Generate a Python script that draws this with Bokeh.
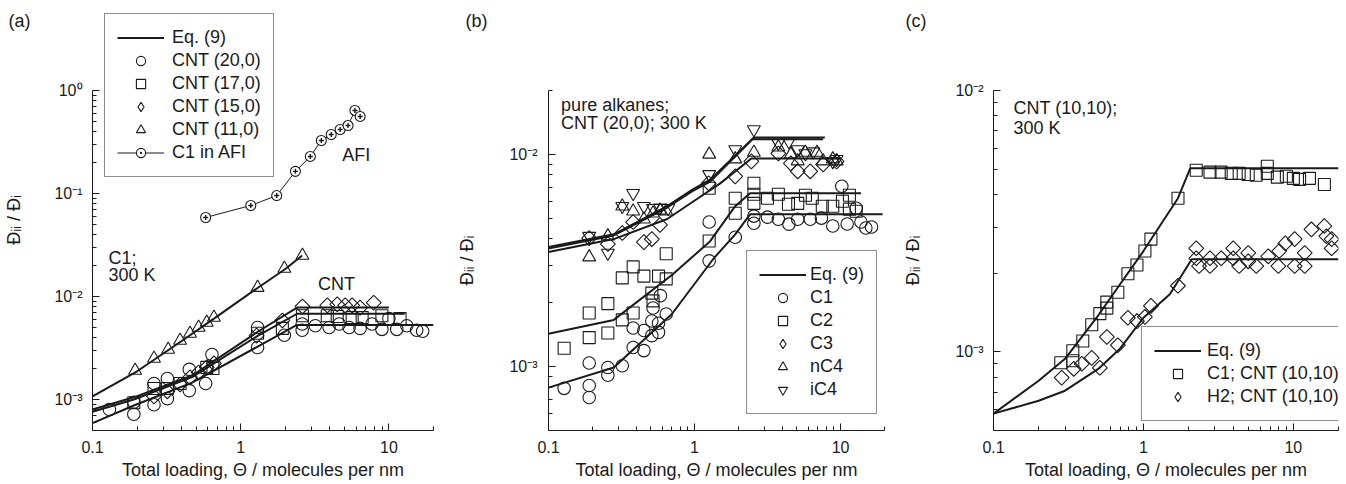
import numpy as np
from bokeh.plotting import figure
from bokeh.layouts import row
from bokeh.models import (Range1d, FixedTicker, CustomJSTickFormatter, Legend,
                          LegendItem, Label, LinearAxis)
from bokeh.embed import file_html
from bokeh.resources import INLINE

# ---------------- data: panel (a) ----------------
a_c20_x = [0.13, 0.19, 0.19, 0.26, 0.26, 0.32, 0.32, 0.45, 0.45, 0.58, 0.64, 1.3, 1.3, 1.97,
           2.6, 2.6, 3.19, 3.95, 4.62, 5.39, 6.39, 7.69, 8.97, 10.0, 11.3, 13.2, 15.4, 16.9]
a_c20_y = [8.0e-4, 9.4e-4, 7.2e-4, 1.43e-3, 8.9e-4, 1.6e-3, 1.02e-3, 1.96e-3, 1.22e-3, 1.43e-3,
           2.73e-3, 5.0e-3, 3.2e-3, 4.2e-3, 5.4e-3, 4.7e-3, 5.2e-3, 5.0e-3, 5.4e-3, 5.0e-3,
           4.9e-3, 5.4e-3, 4.8e-3, 6.1e-3, 4.8e-3, 5.2e-3, 4.7e-3, 4.6e-3]
a_s17_x = [0.19, 0.26, 0.32, 0.39, 0.59, 0.65, 1.3, 1.91, 2.61, 3.84, 4.48, 5.65, 6.6, 8.97, 11.9]
a_s17_y = [9.3e-4, 1.28e-3, 1.28e-3, 1.43e-3, 2.05e-3, 2.0e-3, 4.4e-3, 4.9e-3, 6.5e-3, 6.5e-3,
           6.4e-3, 6.25e-3, 6.25e-3, 6.5e-3, 6.1e-3]
a_d15_x = [0.26, 0.32, 0.39, 0.455, 0.52, 0.59, 0.66, 1.28, 1.91, 2.61, 3.84, 4.48, 5.07, 5.65, 6.39, 7.9]
a_d15_y = [1.07e-3, 1.2e-3, 1.4e-3, 1.64e-3, 1.83e-3, 2.05e-3, 2.24e-3, 4.17e-3, 5.85e-3, 8.0e-3,
           8.2e-3, 8.4e-3, 8.2e-3, 8.2e-3, 7.8e-3, 8.7e-3]
a_t11_x = [0.194, 0.26, 0.324, 0.39, 0.455, 0.52, 0.59, 0.66, 1.30, 1.97, 2.61]
a_t11_y = [1.91e-3, 2.5e-3, 3.06e-3, 3.74e-3, 4.37e-3, 5.0e-3, 5.6e-3, 6.25e-3, 0.0122, 0.0187, 0.025]
a_afi_x = [0.58, 1.17, 1.75, 2.34, 2.95, 3.5, 4.08, 4.69, 5.3, 5.9, 6.4]
a_afi_y = [0.0585, 0.0765, 0.0955, 0.164, 0.229, 0.327, 0.374, 0.418, 0.457, 0.64, 0.56]

a_eq_t11_x = [0.1, 0.2, 0.4, 0.66, 1.3, 2.0, 2.6]
a_eq_t11_y = [1.07e-3, 1.88e-3, 3.7e-3, 6.1e-3, 0.0121, 0.0185, 0.025]
a_eq_d15_x = [0.1, 0.19, 0.47, 1.32, 2.4, 10.0]
a_eq_d15_y = [8.0e-4, 1.05e-3, 1.71e-3, 4.6e-3, 7.8e-3, 7.8e-3]
a_eq_s17_x = [0.1, 0.19, 0.47, 1.32, 2.4, 12.8]
a_eq_s17_y = [7.6e-4, 1.0e-3, 1.65e-3, 4.2e-3, 6.8e-3, 6.8e-3]
a_eq_c20_x = [0.1, 0.19, 0.47, 1.32, 2.4, 20.0]
a_eq_c20_y = [5.9e-4, 8.75e-4, 1.46e-3, 3.3e-3, 5.3e-3, 5.3e-3]

# ---------------- data: panel (b) ----------------
b_c1_x = [0.128, 0.19, 0.19, 0.19, 0.255, 0.255, 0.32, 0.38, 0.38, 0.45, 0.45, 0.51, 0.51, 0.52,
          0.567, 0.567, 0.584, 0.64, 1.26, 1.26, 1.9, 2.55, 2.55, 3.16, 3.75, 4.43, 5.09, 6.2,
          7.4, 8.85, 10.2, 11.1, 12.8, 13.8, 14.9, 16.3]
b_c1_y = [7.9e-4, 8.15e-4, 7.15e-4, 1.04e-3, 9.9e-4, 9.1e-4, 1.01e-3, 1.23e-3, 1.52e-3, 1.19e-3,
          1.48e-3, 1.4e-3, 1.64e-3, 1.89e-3, 1.45e-3, 1.6e-3, 2.16e-3, 1.77e-3, 3.15e-3, 4.8e-3,
          4.07e-3, 5.12e-3, 4.74e-3, 5.06e-3, 4.95e-3, 4.69e-3, 4.95e-3, 4.95e-3, 5.01e-3, 4.6e-3,
          7.08e-3, 4.7e-3, 5.57e-3, 4.8e-3, 4.5e-3, 4.55e-3]
b_c2_x = [0.128, 0.19, 0.19, 0.255, 0.255, 0.32, 0.32, 0.38, 0.38, 0.45, 0.51, 0.52, 0.567, 0.64,
          0.64, 1.26, 1.26, 1.9, 1.9, 2.55, 2.55, 2.55, 3.16, 3.75, 4.4, 5.09, 5.75, 6.4, 7.5,
          8.85, 10.3, 11.5, 11.5, 12.8]
b_c2_y = [1.22e-3, 1.37e-3, 1.79e-3, 1.44e-3, 1.98e-3, 1.66e-3, 2.62e-3, 1.79e-3, 2.95e-3, 2.67e-3,
          2.22e-3, 2.04e-3, 2.67e-3, 3.4e-3, 2.59e-3, 3.91e-3, 6.92e-3, 6.21e-3, 5.28e-3, 7.31e-3,
          6.49e-3, 5.88e-3, 6.21e-3, 6.49e-3, 5.82e-3, 5.88e-3, 6.42e-3, 6.21e-3, 5.7e-3, 5.7e-3,
          6.01e-3, 6.42e-3, 5.52e-3, 5.4e-3]
b_c3_x = [0.19, 0.255, 0.32, 0.38, 0.45, 0.51, 0.58, 1.25, 1.9, 2.45, 3.75, 4.57, 5.09, 6.2, 7.6, 9.4]
b_c3_y = [4.03e-3, 3.78e-3, 4.26e-3, 4.8e-3, 3.86e-3, 3.99e-3, 4.65e-3, 7.31e-3, 7.88e-3, 9.27e-3,
          0.0101, 9.07e-3, 8.32e-3, 8.32e-3, 8.97e-3, 9.27e-3]
b_nc4_x = [0.19, 0.255, 0.32, 0.38, 0.45, 0.52, 0.58, 0.64, 1.26, 1.9, 2.55, 3.75, 4.57, 5.09,
           5.75, 6.9, 7.6, 8.85, 9.4]
b_nc4_y = [3.28e-3, 4.12e-3, 5.7e-3, 5.4e-3, 4.95e-3, 5.28e-3, 5.45e-3, 5.4e-3, 0.0100, 9.5e-3,
           0.0102, 0.0108, 0.0100, 9.3e-3, 0.0102, 0.0102, 9.3e-3, 9.5e-3, 9.3e-3]
b_ic4_x = [0.19, 0.255, 0.32, 0.38, 0.45, 0.52, 0.58, 0.66, 1.26, 1.9, 2.55, 3.75, 4.43, 5.09,
           5.75, 6.5, 8.85, 9.4]
b_ic4_y = [4.12e-3, 3.43e-3, 5.7e-3, 6.56e-3, 5.7e-3, 5.57e-3, 5.6e-3, 5.57e-3, 8.05e-3, 0.01055,
           0.0131, 0.0113, 0.0115, 0.01055, 0.0101, 0.0103, 9.27e-3, 9.48e-3]

b_eq_ic4_x = [0.1, 0.28, 0.65, 0.98, 1.28, 2.55, 7.8]
b_eq_ic4_y = [3.66e-3, 4.2e-3, 5.7e-3, 6.86e-3, 7.6e-3, 0.012, 0.012]
b_eq_nc4_x = [0.1, 0.28, 0.65, 0.98, 1.28, 2.5, 7.6]
b_eq_nc4_y = [3.6e-3, 4.15e-3, 5.62e-3, 6.75e-3, 7.45e-3, 0.0118, 0.0118]
b_eq_c3_x = [0.1, 0.28, 0.65, 0.98, 1.5, 2.45, 10.0]
b_eq_c3_y = [3.47e-3, 3.99e-3, 4.96e-3, 6.0e-3, 7.3e-3, 9.57e-3, 9.57e-3]
b_eq_c2_x = [0.1, 0.28, 0.7, 1.28, 1.9, 2.4, 13.8]
b_eq_c2_y = [1.43e-3, 1.66e-3, 2.7e-3, 3.9e-3, 5.7e-3, 6.56e-3, 6.56e-3]
b_eq_c1_x = [0.1, 0.28, 0.7, 1.36, 1.9, 2.4, 19.4]
b_eq_c1_y = [7.96e-4, 9.9e-4, 1.77e-3, 3.25e-3, 4.2e-3, 5.22e-3, 5.22e-3]

# ---------------- data: panel (c) ----------------
c_c1_x = [0.281, 0.338, 0.338, 0.394, 0.452, 0.512, 0.57, 0.57, 0.675, 0.788, 0.905, 1.023, 1.122,
          1.70, 2.25, 2.78, 3.30, 3.85, 4.35, 5.0, 5.66, 6.70, 6.70, 7.82, 8.98, 10.0, 11.0, 12.8, 16.1]
c_c1_y = [9.08e-4, 1.01e-3, 9.25e-4, 1.10e-3, 1.27e-3, 1.40e-3, 1.47e-3, 1.55e-3, 1.69e-3, 1.99e-3,
          2.15e-3, 2.43e-3, 2.7e-3, 3.87e-3, 4.95e-3, 4.87e-3, 4.87e-3, 4.82e-3, 4.82e-3, 4.77e-3,
          4.74e-3, 5.13e-3, 4.82e-3, 4.66e-3, 4.7e-3, 4.61e-3, 4.57e-3, 4.61e-3, 4.37e-3]
c_h2_x = [0.285, 0.343, 0.388, 0.452, 0.512, 0.57, 0.675, 0.788, 0.905, 1.023, 1.122, 1.70, 2.25,
          2.25, 2.35, 2.78, 2.78, 3.30, 3.97, 3.97, 4.35, 5.0, 5.0, 5.66, 6.8, 7.94, 8.05, 8.84,
          10.2, 10.2, 11.9, 11.9, 13.2, 16.1, 16.6, 18.0, 18.0]
c_h2_y = [7.96e-4, 8.61e-4, 9.0e-4, 9.48e-4, 8.69e-4, 1.14e-3, 1.06e-3, 1.35e-3, 1.31e-3, 1.36e-3,
          1.50e-3, 1.79e-3, 2.49e-3, 2.28e-3, 2.13e-3, 2.28e-3, 2.13e-3, 2.28e-3, 2.49e-3, 2.28e-3,
          2.13e-3, 2.39e-3, 2.22e-3, 2.13e-3, 2.32e-3, 2.13e-3, 2.43e-3, 2.6e-3, 2.7e-3, 2.13e-3,
          2.39e-3, 2.13e-3, 2.94e-3, 3.03e-3, 2.77e-3, 2.7e-3, 2.49e-3]
c_eq_c1_x = [0.1, 0.2, 0.3, 0.5, 1.0, 1.7, 2.05, 20.0]
c_eq_c1_y = [5.8e-4, 7.75e-4, 9.4e-4, 1.38e-3, 2.43e-3, 3.87e-3, 5.04e-3, 5.04e-3]
c_eq_h2_x = [0.1, 0.2, 0.3, 0.5, 0.7, 1.0, 1.5, 2.1, 20.0]
c_eq_h2_y = [5.8e-4, 6.5e-4, 7.1e-4, 8.6e-4, 1.03e-3, 1.35e-3, 1.66e-3, 2.26e-3, 2.26e-3]

# ---------------- ticks ----------------
x_major = [0.1, 1, 10]
x_minor = [0.2, 0.3, 0.4, 0.5, 0.6, 0.7, 0.8, 0.9, 2, 3, 4, 5, 6, 7, 8, 9, 20]


def decade_minor(lo_exp, hi_exp):
    out = []
    for e in range(lo_exp, hi_exp):
        out += [m * 10.0 ** e for m in range(2, 10)]
    return out


FONT = "Liberation Sans"
INK = "#1a1a1a"
FS_TICK = "16px"
FS = "18px"
H = 484
FRAME_BOTTOM = 54
FRAME_TOP_PX = 90          # pixel row of the top of each panel's y axis
FRAME_H = H - FRAME_BOTTOM  # frames start at the canvas top
EM = "\u2003"

Y_FMT = CustomJSTickFormatter(code="""
const s = {'-':'\u207b','0':'\u2070','1':'\u00b9','2':'\u00b2','3':'\u00b3','4':'\u2074'};
const e = Math.round(Math.log10(tick)).toString();
return '10' + e.split('').map(c => s[c]).join('');
""")
X_FMT = CustomJSTickFormatter(code="return tick < 1 ? tick.toFixed(1) : tick.toFixed(0);")
YLABEL = "\u0110\u1d62\u1d62 / \u0110\u1d62"


def style_axis(ax):
    ax.major_tick_in = 7
    ax.major_tick_out = 0
    ax.minor_tick_in = 4
    ax.minor_tick_out = 0
    ax.axis_line_color = INK
    ax.major_tick_line_color = INK
    ax.minor_tick_line_color = INK
    ax.major_label_text_font = FONT
    ax.major_label_text_font_size = FS_TICK
    ax.major_label_text_color = INK
    ax.axis_label_text_font = FONT
    ax.axis_label_text_font_size = FS
    ax.axis_label_text_font_style = "normal"
    ax.axis_label_text_color = INK


def make_fig(width, left, right, ylo, yhi, ymaj, ymin, ytick_standoff):
    axis_h = FRAME_H - FRAME_TOP_PX
    ytop = ylo * (yhi / ylo) ** (FRAME_H / axis_h)
    p = figure(width=width, height=H, x_axis_type="log", y_axis_type="log",
               x_range=Range1d(0.1, 20), y_range=Range1d(ylo, ytop),
               output_backend="svg", toolbar_location=None,
               min_border_left=left, min_border_right=right,
               min_border_top=0, min_border_bottom=FRAME_BOTTOM)
    p.frame_align = False
    p.grid.visible = False
    p.outline_line_color = None
    p.background_fill_color = "white"
    p.border_fill_color = "white"
    p.xaxis.ticker = FixedTicker(ticks=x_major, minor_ticks=x_minor)
    p.yaxis.ticker = FixedTicker(ticks=ymaj, minor_ticks=ymin)
    p.xaxis.formatter = X_FMT
    p.yaxis.formatter = Y_FMT
    p.yaxis.bounds = (ylo, yhi)
    style_axis(p.xaxis[0])
    style_axis(p.yaxis[0])
    p.xaxis.axis_label = "Total loading, \u0398 / molecules per nm"
    p.xaxis.major_label_standoff = 10
    p.xaxis.axis_label_standoff = 4
    p.yaxis.major_label_standoff = ytick_standoff
    return p


def letter_axis(p, letter, letter_standoff, label_standoff, label_pad):
    # outer left axis: carries the panel letter (as its only tick label) and the axis title
    p.extra_y_ranges = {"lab": Range1d(0, 1)}
    ax = LinearAxis(y_range_name="lab",
                    ticker=FixedTicker(ticks=[(FRAME_H - 25) / FRAME_H]),
                    formatter=CustomJSTickFormatter(code="return '%s';" % letter))
    style_axis(ax)
    ax.major_label_text_font_size = FS
    ax.axis_line_color = None
    ax.major_tick_line_color = None
    ax.minor_tick_line_color = None
    ax.major_tick_in = 0
    ax.minor_tick_in = 0
    ax.major_label_standoff = letter_standoff
    ax.axis_label = YLABEL + label_pad
    ax.axis_label_standoff = label_standoff
    p.add_layout(ax, "left")


def pts(p, x, y, marker, size, angle=0.0):
    return p.scatter(x, y, marker=marker, size=size, angle=angle, fill_color=None,
                     line_color=INK, line_width=1.1)


def diamonds(p, x, y):
    return pts(p, x, y, "square", 10.5, np.pi / 4)


def key(p, marker):
    # legend key only: a single marker placed outside the visible ranges
    return p.scatter([1e-6], [1e-9], marker=marker, size=10, fill_color=INK if marker == "dot" else None,
                     line_color=INK, line_width=1.1)


def eq(p, x, y, w=2):
    return p.line(x, y, line_color=INK, line_width=w)


def txt(p, x, y, s):
    p.add_layout(Label(x=x, y=y, text=s, text_font=FONT, text_font_size=FS,
                       text_color=INK, text_baseline="middle", text_align="left"))


def legend(p, items, loc, standoff):
    lg = Legend(items=items, location=loc, label_text_font=FONT, label_text_font_size=FS,
                label_text_color=INK, glyph_width=47, glyph_height=23, label_height=23,
                spacing=0, padding=12, margin=0, label_standoff=standoff,
                border_line_color=INK, border_line_width=1, background_fill_alpha=1.0)
    p.add_layout(lg)


# ---------------- panel (a) ----------------
pa = make_fig(453, 89, 20, 5e-4, 1.0, [1e-3, 1e-2, 1e-1, 1.0], decade_minor(-4, 0)[3:], 10)
letter_axis(pa, "(a)", 21, -18, "\u2002")

e1 = eq(pa, a_eq_t11_x, a_eq_t11_y)
eq(pa, a_eq_d15_x, a_eq_d15_y)
eq(pa, a_eq_s17_x, a_eq_s17_y)
eq(pa, a_eq_c20_x, a_eq_c20_y)
r_c = pts(pa, a_c20_x, a_c20_y, "circle", 12.5)
r_s = pts(pa, a_s17_x, a_s17_y, "square", 12)
diamonds(pa, a_d15_x, a_d15_y)
k_d = key(pa, "diamond")
r_t = pts(pa, a_t11_x, a_t11_y, "triangle", 13)
r_al = pa.line(a_afi_x, a_afi_y, line_color=INK, line_width=1)
r_ac = pa.scatter(a_afi_x, a_afi_y, marker="circle", size=10, fill_color="white",
                  line_color=INK, line_width=1.1)
r_ax = pa.scatter(a_afi_x, a_afi_y, marker="cross", size=5, line_color=INK, line_width=1.4)
k_dot = key(pa, "dot")
legend(pa, [LegendItem(label="Eq. (9)", renderers=[e1]),
            LegendItem(label="CNT (20,0)", renderers=[r_c]),
            LegendItem(label="CNT (17,0)", renderers=[r_s]),
            LegendItem(label="CNT (15,0)", renderers=[k_d]),
            LegendItem(label="CNT (11,0)", renderers=[r_t]),
            LegendItem(label="C1 in AFI", renderers=[r_al, r_ac, k_dot])], (12, 253), 8)
txt(pa, 0.128, 0.0239, "C1;")
txt(pa, 0.128, 0.016, "300 K")
txt(pa, 4.85, 0.239, "AFI")
txt(pa, 3.33, 0.01337, "CNT")

# ---------------- panel (b) ----------------
pb = make_fig(445, 88, 14, 5e-4, 0.02, [1e-3, 1e-2],
              [6e-4, 7e-4, 8e-4, 9e-4] + decade_minor(-3, -2) + [2e-2], 11)
letter_axis(pb, "(b)", 19, -14, EM * 5)
eb = eq(pb, b_eq_ic4_x, b_eq_ic4_y)
eq(pb, b_eq_nc4_x, b_eq_nc4_y)
eq(pb, b_eq_c3_x, b_eq_c3_y)
eq(pb, b_eq_c2_x, b_eq_c2_y)
eq(pb, b_eq_c1_x, b_eq_c1_y)
rb1 = pts(pb, b_c1_x, b_c1_y, "circle", 12.5)
rb2 = pts(pb, b_c2_x, b_c2_y, "square", 12)
diamonds(pb, b_c3_x, b_c3_y)
kb3 = key(pb, "diamond")
rb4 = pts(pb, b_nc4_x, b_nc4_y, "triangle", 13)
rb5 = pts(pb, b_ic4_x, b_ic4_y, "inverted_triangle", 13)
legend(pb, [LegendItem(label="Eq. (9)", renderers=[eb]),
            LegendItem(label="C1", renderers=[rb1]),
            LegendItem(label="C2", renderers=[rb2]),
            LegendItem(label="C3", renderers=[kb3]),
            LegendItem(label="nC4", renderers=[rb4]),
            LegendItem(label="iC4", renderers=[rb5])], (198, 16), 4)
txt(pb, 0.122, 0.01718, "pure alkanes;")
txt(pb, 0.122, 0.0140, "CNT (20,0); 300 K")

# ---------------- panel (c) ----------------
pc = make_fig(448, 95, 8, 5e-4, 0.01, [1e-3, 1e-2],
              [6e-4, 7e-4, 8e-4, 9e-4] + decade_minor(-3, -2), 10)
letter_axis(pc, "(c)", 26, -20, EM * 5)
ec = eq(pc, c_eq_c1_x, c_eq_c1_y)
eq(pc, c_eq_h2_x, c_eq_h2_y)
rc1 = pts(pc, c_c1_x, c_c1_y, "square", 12)
diamonds(pc, c_h2_x, c_h2_y)
kc2 = key(pc, "diamond")
legend(pc, [LegendItem(label="Eq. (9)", renderers=[ec]),
            LegendItem(label="C1; CNT (10,10)", renderers=[rc1]),
            LegendItem(label="H2; CNT (10,10)", renderers=[kc2])], (148, 9), 6)
txt(pc, 0.136, 8.54e-3, "CNT (10,10);")
txt(pc, 0.136, 7.16e-3, "300 K")

layout = row(pa, pb, pc)
open("out.html", "w").write(file_html(layout, INLINE, title="plot"))
